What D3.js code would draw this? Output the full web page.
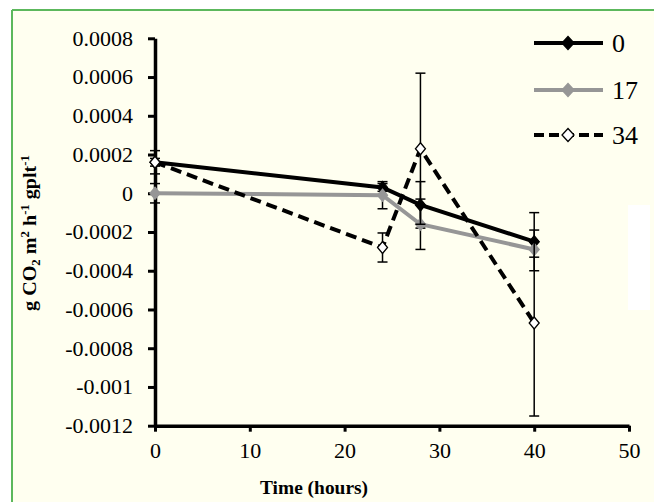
<!DOCTYPE html>
<html><head><meta charset="utf-8">
<script src="https://cdn.jsdelivr.net/npm/d3@7"></script>
<style>
html,body{margin:0;padding:0;background:#fff;}
text{font-family:"Liberation Serif","Times New Roman",serif;fill:#000;}
</style></head>
<body><svg id="c" width="654" height="502"></svg>
<script>
const times = [0, 24, 28, 40];
const seriesNames = ["0", "17", "34"];
const vals0 = [0.00016, 0.00003, -0.00006, -0.00025];
const vals17 = [0, -0.00001, -0.00016, -0.00029];
const vals34 = [0.00016, -0.00028, 0.00023, -0.00067];
const err0 = [0.00006, 0.00002, 0.00012, 0.00015];
const err17 = [0.00005, 0.00007, 0.00013, 0.00004];
const err34 = [0.00002, 0.000075, 0.00039, 0.00048];
const yTicks = [0.0008, 0.0006, 0.0004, 0.0002, 0, -0.0002, -0.0004, -0.0006, -0.0008, -0.001, -0.0012];
const yTickLabels = ["0.0008", "0.0006", "0.0004", "0.0002", "0", "-0.0002", "-0.0004", "-0.0006", "-0.0008", "-0.001", "-0.0012"];
const xTicks = [0, 10, 20, 30, 40, 50];
const xTitle = "Time (hours)";

const svg = d3.select("#c");
svg.append("rect").attr("x",12).attr("y",10).attr("width",642).attr("height",492).attr("fill","#fffff0");
svg.append("rect").attr("x",628).attr("y",205).attr("width",22).attr("height",105).attr("fill","#ffffff");
svg.append("line").attr("x1",12).attr("x2",654).attr("y1",10).attr("y2",10).attr("stroke","#5cb85c").attr("stroke-width",2);
svg.append("line").attr("x1",12).attr("x2",12).attr("y1",10).attr("y2",502).attr("stroke","#5cb85c").attr("stroke-width",2);

const x = d3.scaleLinear().domain([0,50]).range([155,629]);
const y = d3.scaleLinear().domain([-0.0012,0.0008]).range([425.7,38.3]);
const SX = 1.1;

const ya = svg.append("g").attr("transform","translate(155,0)")
  .call(d3.axisLeft(y).tickValues(yTicks).tickSize(7).tickSizeOuter(0)
    .tickFormat((d,i)=>yTickLabels[i]));
ya.select(".domain").attr("stroke","#000").attr("stroke-width",3.5);
ya.selectAll(".tick line").attr("stroke","#000").attr("stroke-width",3);
ya.selectAll(".tick text").attr("x",0).attr("dy","0.34em").attr("font-size",20)
  .attr("font-family","Liberation Serif").attr("text-anchor","end")
  .attr("transform",`translate(-22,0) scale(${SX},1)`);

const xa = svg.append("g").attr("transform","translate(0,425.7)")
  .call(d3.axisBottom(x).tickValues(xTicks).tickSize(6).tickSizeOuter(0));
xa.select(".domain").attr("stroke","#000").attr("stroke-width",3.5);
xa.selectAll(".tick line").attr("stroke","#000").attr("stroke-width",3);
xa.selectAll(".tick text").attr("y",0).attr("dy",0).attr("font-size",20)
  .attr("font-family","Liberation Serif")
  .attr("transform",`translate(0,32) scale(${SX},1)`);

svg.append("text").attr("font-size",18.5).attr("font-weight","bold").attr("text-anchor","middle")
  .attr("transform",`translate(314,494) scale(1.05,1)`).text(xTitle);

const yt = svg.append("text").attr("font-size",19).attr("font-weight","bold").attr("text-anchor","middle")
  .attr("transform",`translate(36,233) rotate(-90) scale(1.06,1)`);
yt.append("tspan").text("g CO");
yt.append("tspan").attr("font-size",12).attr("dy",4).text("2");
yt.append("tspan").attr("dy",-4).text(" m");
yt.append("tspan").attr("font-size",12).attr("dy",-7).text("2");
yt.append("tspan").attr("dy",7).text(" h");
yt.append("tspan").attr("font-size",12).attr("dy",-7).text("-1");
yt.append("tspan").attr("dy",7).text(" gplt");
yt.append("tspan").attr("font-size",12).attr("dy",-7).text("-1");

const series = [
  {vals: vals0, err: err0, color:"#000", dash:null, fill:"#000", stroke:"#000"},
  {vals: vals17, err: err17, color:"#969696", dash:null, fill:"#969696", stroke:"#969696"},
  {vals: vals34, err: err34, color:"#000", dash:"11,6", fill:"#fff", stroke:"#000"}
];
const diamond = (cx,cy,w,h)=>`M${cx},${cy-h}L${cx+w},${cy}L${cx},${cy+h}L${cx-w},${cy}Z`;
const line = d3.line().x((d,i)=>x(times[i])).y(d=>y(d));

series.forEach((s,si)=>{
  const g = svg.append("g");
  s.vals.forEach((v,i)=>{
    const cx = x(times[i]);
    const y1 = y(v + s.err[i]), y2 = y(v - s.err[i]);
    g.append("line").attr("x1",cx).attr("x2",cx).attr("y1",y1).attr("y2",y2).attr("stroke","#000").attr("stroke-width",1.5);
    [y1,y2].forEach(yy=>g.append("line").attr("x1",cx-5).attr("x2",cx+5).attr("y1",yy).attr("y2",yy).attr("stroke","#000").attr("stroke-width",1.5));
  });
  g.append("path").attr("d",line(s.vals)).attr("fill","none").attr("stroke",s.color)
    .attr("stroke-width",4).attr("stroke-dasharray",s.dash);
  s.vals.forEach((v,i)=>{
    g.append("path").attr("d",diamond(x(times[i]),y(v),5,6)).attr("fill",s.fill)
      .attr("stroke",s.stroke).attr("stroke-width",1.3);
  });
});

const legY = [43, 90, 135];
series.forEach((s,i)=>{
  const g = svg.append("g");
  g.append("line").attr("x1",534).attr("x2",603).attr("y1",legY[i]).attr("y2",legY[i])
    .attr("stroke",s.color).attr("stroke-width",4).attr("stroke-dasharray",s.dash?"10,5":null);
  g.append("path").attr("d",diamond(568,legY[i],6,6.5)).attr("fill",s.fill).attr("stroke",s.stroke).attr("stroke-width",1.3);
  g.append("text").attr("x",612).attr("y",legY[i]).attr("dy","0.34em").attr("font-size",26).text(seriesNames[i]);
});
</script></body></html>
